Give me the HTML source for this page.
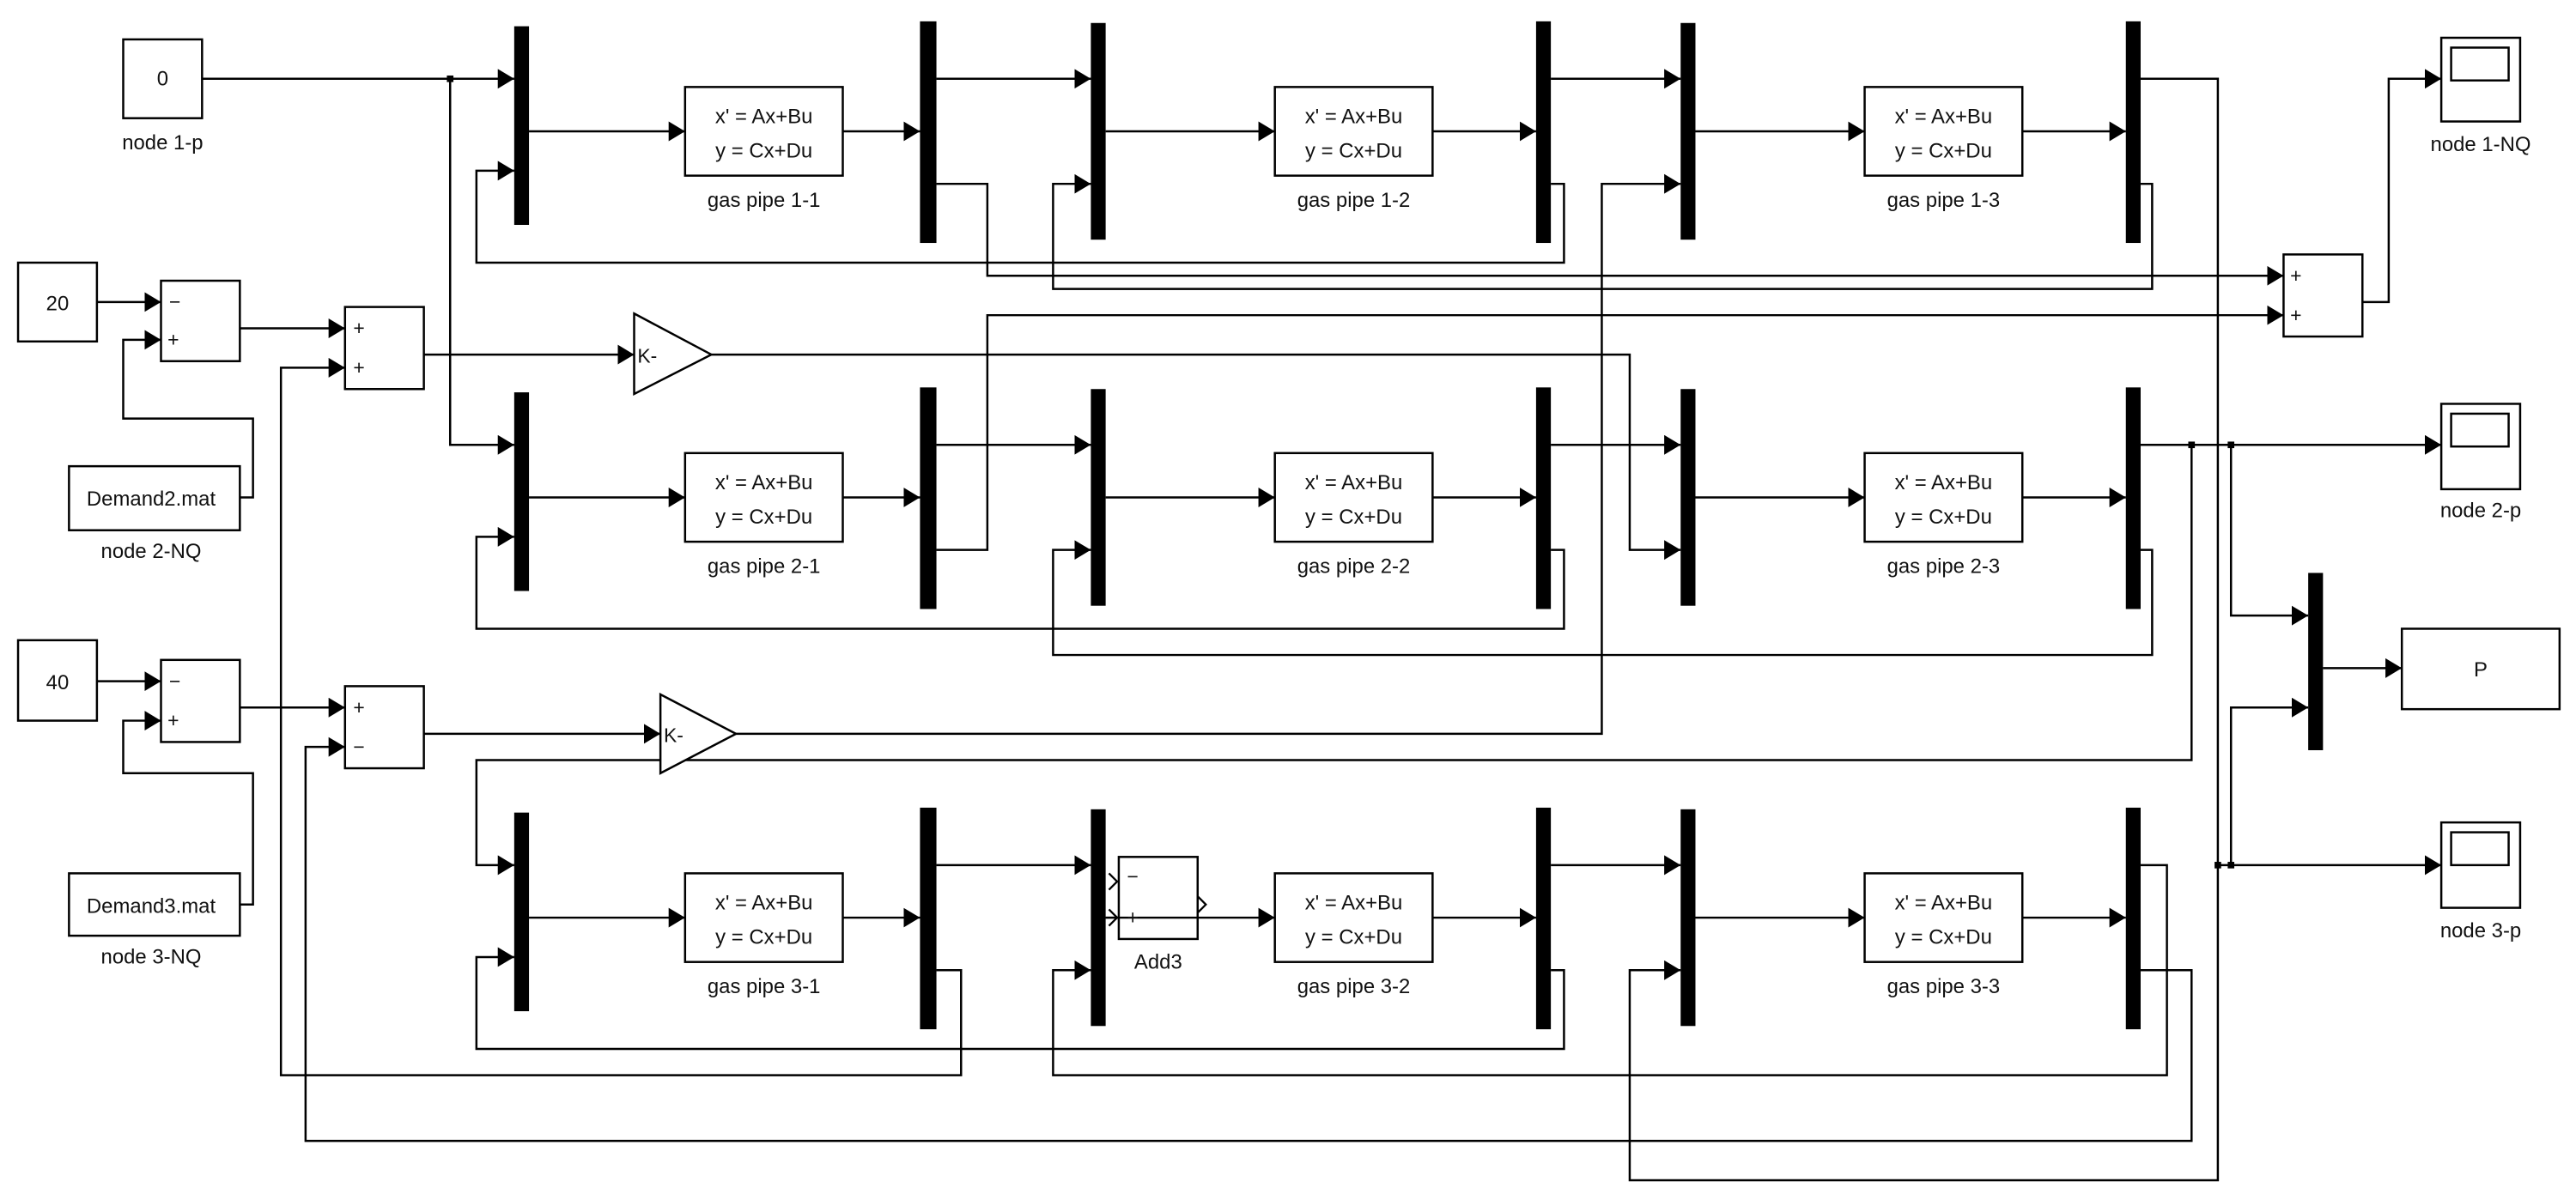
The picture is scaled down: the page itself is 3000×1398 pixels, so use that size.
<!DOCTYPE html>
<html><head><meta charset="utf-8"><style>
html,body{margin:0;padding:0;background:#fff;}
svg{display:block;}
text{font-family:"Liberation Sans",sans-serif;fill:#111;}
</style></head><body>
<svg width="3000" height="1398" viewBox="0 0 1568 731" preserveAspectRatio="none" xmlns="http://www.w3.org/2000/svg">
<defs>
<marker id="a" markerUnits="userSpaceOnUse" markerWidth="11" markerHeight="13" refX="10" refY="6" orient="auto">
<path d="M0,0 L10,6 L0,12 z" fill="#000"/>
</marker>
</defs>
<rect width="1568" height="731" fill="#fff"/>
<g fill="none" stroke="#000" stroke-width="1.3" marker-end="url(#a)">
<!-- row generic -->
<path d="M322,80H417"/><path d="M513,80H560"/><path d="M570,48H664"/><path d="M673,80H776"/><path d="M872,80H935"/><path d="M944,48H1023"/><path d="M1032,80H1135"/><path d="M1231,80H1294"/>
<path d="M322,303H417"/><path d="M513,303H560"/><path d="M570,271H664"/><path d="M673,303H776"/><path d="M872,303H935"/><path d="M944,271H1023"/><path d="M1032,303H1135"/><path d="M1231,303H1294"/>
<path d="M322,559H417"/><path d="M513,559H560"/><path d="M570,527H664"/><path d="M673,559H776"/><path d="M872,559H935"/><path d="M944,527H1023"/><path d="M1032,559H1135"/><path d="M1231,559H1294"/>
<!-- row1 -->
<path d="M123,48H313"/><path d="M274,48V271H313"/>
<path d="M944,112H952V160H290V104H313"/>
<path d="M570,112H601V168H1390"/>
<path d="M1303,112H1310V176H641V112H664"/>
<path d="M448,447H975V112H1023"/>
<path d="M1303,48H1350V719H992V591H1023"/>
<!-- row2 -->
<path d="M944,335H952V383H290V327H313"/>
<path d="M570,335H601V192H1390"/>
<path d="M1303,335H1310V399H641V335H664"/>
<path d="M433,216H992V335H1023"/>
<path d="M1303,271H1486"/>
<path d="M1334,271V463H290V527H313"/>
<path d="M1358,271V375H1405"/>
<!-- row3 -->
<path d="M944,591H952V639H290V583H313"/>
<path d="M570,591H585V655H171V224H210"/>
<path d="M1303,527H1319V655H641V591H664"/>
<path d="M1303,591H1334V695H186V455H210"/>
<path d="M1350,527H1486"/>
<path d="M1358,527V431H1405"/>
<path d="M1414,407H1462"/>
<path d="M1438,184H1454V48H1486"/>
<!-- left -->
<path d="M59,184H98"/><path d="M146,200H210"/><path d="M258,216H386"/>
<path d="M146,303H154V255H75V207H98"/>
<path d="M59,415H98"/><path d="M146,431H210"/><path d="M258,447H402"/>
<path d="M146,551H154V471H75V439H98"/>
</g>
<g fill="#000">
<rect x="313" y="16" width="9" height="121"/><rect x="560" y="13" width="10" height="135"/><rect x="664" y="14" width="9" height="132"/><rect x="935" y="13" width="9" height="135"/><rect x="1023" y="14" width="9" height="132"/><rect x="1294" y="13" width="9" height="135"/>
<rect x="313" y="239" width="9" height="121"/><rect x="560" y="236" width="10" height="135"/><rect x="664" y="237" width="9" height="132"/><rect x="935" y="236" width="9" height="135"/><rect x="1023" y="237" width="9" height="132"/><rect x="1294" y="236" width="9" height="135"/>
<rect x="313" y="495" width="9" height="121"/><rect x="560" y="492" width="10" height="135"/><rect x="664" y="493" width="9" height="132"/><rect x="935" y="492" width="9" height="135"/><rect x="1023" y="493" width="9" height="132"/><rect x="1294" y="492" width="9" height="135"/>
<rect x="1405" y="349" width="9" height="108"/>
<rect x="272" y="46" width="4" height="4"/><rect x="1332" y="269" width="4" height="4"/><rect x="1356" y="269" width="4" height="4"/><rect x="1348" y="525" width="4" height="4"/><rect x="1356" y="525" width="4" height="4"/>
</g>
<g fill="#fff" stroke="#000" stroke-width="1.3">
<rect x="417" y="53" width="96" height="54"/><rect x="776" y="53" width="96" height="54"/><rect x="1135" y="53" width="96" height="54"/>
<rect x="417" y="276" width="96" height="54"/><rect x="776" y="276" width="96" height="54"/><rect x="1135" y="276" width="96" height="54"/>
<rect x="417" y="532" width="96" height="54"/><rect x="776" y="532" width="96" height="54"/><rect x="1135" y="532" width="96" height="54"/>
<rect x="75" y="24" width="48" height="48"/>
<rect x="11" y="160" width="48" height="48"/><rect x="98" y="171" width="48" height="49"/><rect x="210" y="187" width="48" height="50"/>
<rect x="42" y="284" width="104" height="39"/>
<rect x="11" y="390" width="48" height="49"/><rect x="98" y="402" width="48" height="50"/><rect x="210" y="418" width="48" height="50"/>
<rect x="42" y="532" width="104" height="38"/>
<path d="M386,191L433,216L386,240Z"/><path d="M402,423L448,447L402,471Z"/>
<rect x="1390" y="155" width="48" height="50"/>
<rect x="1486" y="23" width="48" height="51"/><rect x="1492" y="29" width="35" height="20"/>
<rect x="1486" y="246" width="48" height="52"/><rect x="1492" y="252" width="35" height="20"/>
<rect x="1486" y="501" width="48" height="52"/><rect x="1492" y="507" width="35" height="20"/>
<rect x="1462" y="383" width="96" height="49"/>
<rect x="681" y="522" width="48" height="50"/>
</g>
<g fill="none" stroke="#000" stroke-width="1.2">
<path d="M673,559H681"/><path d="M681,559H729"/>
<path d="M675,532L680,537L675,542"/><path d="M675,554L680,559L675,564"/>
<path d="M729,546L734,551L729,556"/>
</g>
<g font-size="12.5" text-anchor="middle">
<text x="465" y="75">x' = Ax+Bu</text><text x="465" y="96">y = Cx+Du</text>
<text x="824" y="75">x' = Ax+Bu</text><text x="824" y="96">y = Cx+Du</text>
<text x="1183" y="75">x' = Ax+Bu</text><text x="1183" y="96">y = Cx+Du</text>
<text x="465" y="298">x' = Ax+Bu</text><text x="465" y="319">y = Cx+Du</text>
<text x="824" y="298">x' = Ax+Bu</text><text x="824" y="319">y = Cx+Du</text>
<text x="1183" y="298">x' = Ax+Bu</text><text x="1183" y="319">y = Cx+Du</text>
<text x="465" y="554">x' = Ax+Bu</text><text x="465" y="575">y = Cx+Du</text>
<text x="824" y="554">x' = Ax+Bu</text><text x="824" y="575">y = Cx+Du</text>
<text x="1183" y="554">x' = Ax+Bu</text><text x="1183" y="575">y = Cx+Du</text>
<text x="465" y="126">gas pipe 1-1</text><text x="824" y="126">gas pipe 1-2</text><text x="1183" y="126">gas pipe 1-3</text>
<text x="465" y="349">gas pipe 2-1</text><text x="824" y="349">gas pipe 2-2</text><text x="1183" y="349">gas pipe 2-3</text>
<text x="465" y="605">gas pipe 3-1</text><text x="824" y="605">gas pipe 3-2</text><text x="1183" y="605">gas pipe 3-3</text>
<text x="99" y="52">0</text><text x="99" y="91">node 1-p</text>
<text x="35" y="189">20</text><text x="35" y="420">40</text>
<text x="92" y="308">Demand2.mat</text><text x="92" y="340">node 2-NQ</text>
<text x="92" y="556">Demand3.mat</text><text x="92" y="587">node 3-NQ</text>
<text x="1510" y="92">node 1-NQ</text><text x="1510" y="315">node 2-p</text><text x="1510" y="571">node 3-p</text>
<text x="1510" y="412">P</text>
<text x="705" y="590">Add3</text>
</g>
<g font-size="12">
<text x="103" y="188">−</text><text x="102" y="211">+</text>
<text x="215" y="204">+</text><text x="215" y="228">+</text>
<text x="103" y="419">−</text><text x="102" y="443">+</text>
<text x="215" y="435">+</text><text x="215" y="459">−</text>
<text x="1394" y="172">+</text><text x="1394" y="196">+</text>
<text x="388" y="221">K-</text><text x="404" y="452">K-</text>
<text x="686" y="538">−</text><text x="686" y="563">+</text>
</g>
</svg>
</body></html>
